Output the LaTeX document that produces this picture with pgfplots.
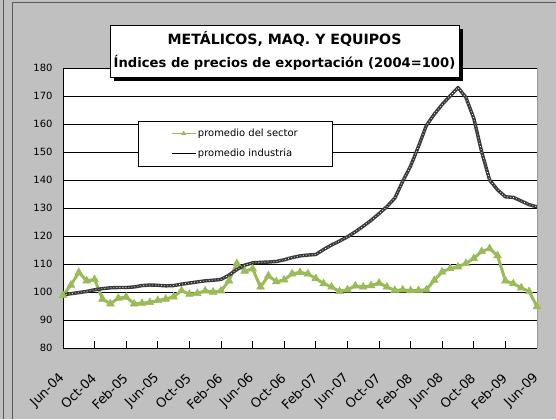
\documentclass[border=0pt]{standalone}
\usepackage{fontspec}
\setmainfont{DejaVu Sans}
\usepackage{pgfplots}
\usepackage{pgfplotstable}
\pgfplotsset{compat=1.18}
\definecolor{panel}{HTML}{C0C0C0}
\definecolor{sector}{HTML}{9BBB59}
\definecolor{indus}{HTML}{3A3A3A}
\pgfplotstableread{
i s n
0 98.8 99.0
1 102.5 99.4
2 107.0 99.8
3 104.0 100.2
4 104.5 100.8
5 97.5 101.2
6 95.8 101.5
7 97.8 101.6
8 98.2 101.6
9 95.8 101.8
10 96.0 102.3
11 96.3 102.5
12 97.0 102.4
13 97.5 102.2
14 98.3 102.3
15 100.5 102.8
16 99.2 103.2
17 99.5 103.6
18 100.4 104.0
19 100.0 104.2
20 100.4 104.5
21 104.0 106.0
22 110.2 108.0
23 107.5 109.6
24 108.3 110.4
25 101.8 110.6
26 105.8 110.7
27 103.7 110.9
28 104.3 111.5
29 106.5 112.3
30 107.0 112.9
31 106.5 113.2
32 104.8 113.4
33 103.0 115.2
34 101.8 116.8
35 100.2 118.2
36 100.8 119.7
37 102.2 121.5
38 101.8 123.5
39 102.3 125.6
40 103.2 128.0
41 101.8 130.5
42 100.6 133.5
43 100.8 139.5
44 100.5 145.0
45 100.6 152.0
46 100.8 159.5
47 104.2 163.5
48 107.2 167.0
49 108.4 170.0
50 109.0 173.0
51 110.2 169.5
52 112.0 162.0
53 114.5 150.0
54 115.5 140.0
55 113.0 136.5
56 104.0 134.0
57 103.0 133.8
58 101.5 132.5
59 100.2 131.2
60 94.8 130.4
}\data
\begin{document}
\begin{tikzpicture}[x=1bp,y=1bp]
\path[use as bounding box] (0,0) rectangle (556,419);
\fill[panel] (0,0) rectangle (556,419);
\draw[black!65, line width=1bp] (3,0) -- (3,419);
\draw[black!65, line width=1bp] (12,0) -- (12,416) -- (556,416);
\begin{axis}[
  at={(63bp,71bp)}, anchor=south west,
  scale only axis, width=474bp, height=280bp,
  xmin=0, xmax=60, ymin=80, ymax=180,
  axis background/.style={fill=white},
  axis x line*=bottom, axis y line*=left,
  axis line style={black, line width=0.8bp},
  xtick={0,4,...,60},
  xticklabels={Jun-04,Oct-04,Feb-05,Jun-05,Oct-05,Feb-06,Jun-06,Oct-06,Feb-07,Jun-07,Oct-07,Feb-08,Jun-08,Oct-08,Feb-09,Jun-09},
  ytick={80,90,...,180},
  xtick align=inside,
  major tick length=7bp,
  x tick style={black, line width=0.8bp},
  y tick style={draw=none},
  ymajorgrids,
  grid style={black, line width=0.7bp},
  /pgf/number format/assume math mode=true,
  yticklabel style={font=\fontsize{10}{11}\selectfont, xshift=-7bp},
  xticklabel style={font=\fontsize{13}{14}\selectfont, rotate=45, anchor=east, inner sep=1bp},
  xticklabel shift=27bp,
  legend style={at={(0.158,0.811)}, anchor=north west, draw=black, line width=0.6bp, fill=white,
    font=\fontsize{10}{11}\selectfont, inner xsep=33bp, inner ysep=6bp, row sep=7bp},
  legend cell align=left,
  clip=false,
]
\addplot[sector, line width=3bp, mark=triangle*, mark size=4.5bp, mark options={fill=sector, draw=sector, line width=0.5bp},
  legend image code/.code={\draw[sector, line width=0.8bp, mark=triangle*, mark size=2.5bp, mark repeat=2, mark phase=2] plot coordinates {(0bp,0bp) (12bp,0bp) (24bp,0bp)};}]
  table[x=i, y=s] {\data};
\addlegendentry{promedio del sector}
\addplot[indus, line width=3.4bp, line join=round,
  legend image code/.code={\draw[black, line width=0.8bp] (0bp,0bp) -- (24bp,0bp);}]
  table[x=i, y=n] {\data};
\addlegendentry{promedio industria}
\addplot[white, line width=0.7bp, dash pattern=on 0.8bp off 2.2bp, forget plot]
  table[x=i, y=n] {\data};
\draw[black!40, line width=0.6bp] (rel axis cs:1,0) -- (rel axis cs:1,1);
\end{axis}
\fill[black] (114,338) rectangle (463,390);
\node[draw=black, fill=white, line width=0.8bp, minimum width=349bp, minimum height=52bp, align=center, inner sep=0pt,
  font=\bfseries\fontsize{13.2}{23}\selectfont]
  at (284.5,368) {{\fontsize{14.2}{23}\selectfont METÁLICOS, MAQ. Y EQUIPOS}\\ Índices de precios de exportación (2004=100)};
\end{tikzpicture}
\end{document}
